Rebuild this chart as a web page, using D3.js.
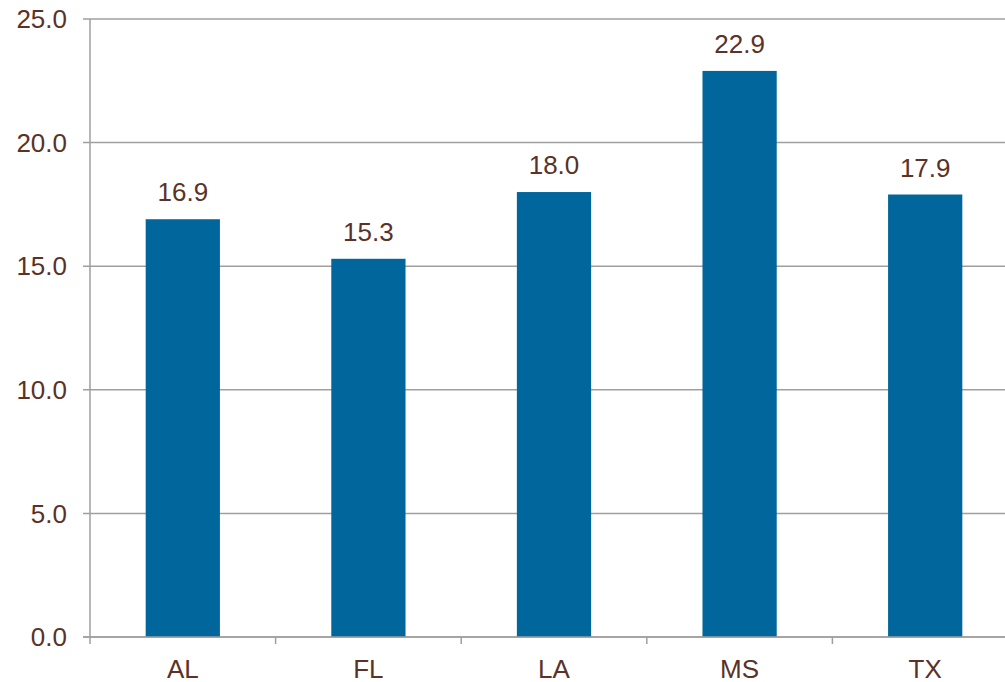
<!DOCTYPE html>
<html>
<head>
<meta charset="utf-8">
<script src="https://cdn.jsdelivr.net/npm/d3@7"></script>
<style>
  body { margin: 0; background: #fff; }
  svg { display: block; font-family: "Liberation Sans", Arial, sans-serif; }
</style>
</head>
<body>
<div id="chart"></div>
<script>
const states = ['AL', 'FL', 'LA', 'MS', 'TX'];
const values = [16.9, 15.3, 18.0, 22.9, 17.9];
const yTicks = [0, 5, 10, 15, 20, 25];

const width = 1005, height = 682;
const margin = { top: 19, right: -13, bottom: 45, left: 90 };
const textColor = '#5a3227';
const lineColor = '#a39e9e';
const fontSize = '26px';

const svg = d3.select('#chart')
    .append('svg')
    .attr('width', width)
    .attr('height', height);

const x = d3.scaleBand()
    .domain(states)
    .range([margin.left, width - margin.right])
    .paddingInner(0.6)
    .paddingOuter(0.3);

const y = d3.scaleLinear()
    .domain([0, 25])
    .range([height - margin.bottom, margin.top]);

// gridlines
svg.append('g')
    .selectAll('line')
    .data(yTicks)
    .enter()
    .append('line')
    .attr('x1', margin.left - 7)
    .attr('x2', width)
    .attr('y1', d => y(d))
    .attr('y2', d => y(d))
    .attr('stroke', lineColor)
    .attr('stroke-width', 1.5);

// y axis line
svg.append('line')
    .attr('x1', margin.left)
    .attr('x2', margin.left)
    .attr('y1', y(25))
    .attr('y2', y(0) + 7)
    .attr('stroke', lineColor)
    .attr('stroke-width', 1.5);

// y labels
svg.append('g')
    .selectAll('text')
    .data(yTicks)
    .enter()
    .append('text')
    .attr('x', 67)
    .attr('y', d => y(d))
    .attr('dy', '0.35em')
    .attr('text-anchor', 'end')
    .attr('font-size', fontSize)
    .attr('fill', textColor)
    .text(d => d.toFixed(1));

// category ticks between bands
const step = x.step();
svg.append('g')
    .selectAll('line')
    .data(d3.range(1, states.length))
    .enter()
    .append('line')
    .attr('x1', i => margin.left + i * step)
    .attr('x2', i => margin.left + i * step)
    .attr('y1', y(0))
    .attr('y2', y(0) + 7)
    .attr('stroke', lineColor)
    .attr('stroke-width', 1.5);

// bars
svg.append('g')
    .selectAll('rect')
    .data(states)
    .enter()
    .append('rect')
    .attr('x', d => x(d))
    .attr('width', x.bandwidth())
    .attr('y', (d, i) => y(values[i]))
    .attr('height', (d, i) => y(0) - y(values[i]))
    .attr('fill', '#01669b');

// redraw baseline over bars
svg.append('line')
    .attr('x1', margin.left - 7)
    .attr('x2', width)
    .attr('y1', y(0))
    .attr('y2', y(0))
    .attr('stroke', lineColor)
    .attr('stroke-width', 1.5);

// value labels
svg.append('g')
    .selectAll('text')
    .data(states)
    .enter()
    .append('text')
    .attr('x', d => x(d) + x.bandwidth() / 2)
    .attr('y', (d, i) => y(values[i]) - 18)
    .attr('text-anchor', 'middle')
    .attr('font-size', fontSize)
    .attr('fill', textColor)
    .text((d, i) => values[i].toFixed(1));

// category labels
svg.append('g')
    .selectAll('text')
    .data(states)
    .enter()
    .append('text')
    .attr('x', d => x(d) + x.bandwidth() / 2)
    .attr('y', 678)
    .attr('text-anchor', 'middle')
    .attr('font-size', fontSize)
    .attr('fill', textColor)
    .text(d => d);
</script>
</body>
</html>
